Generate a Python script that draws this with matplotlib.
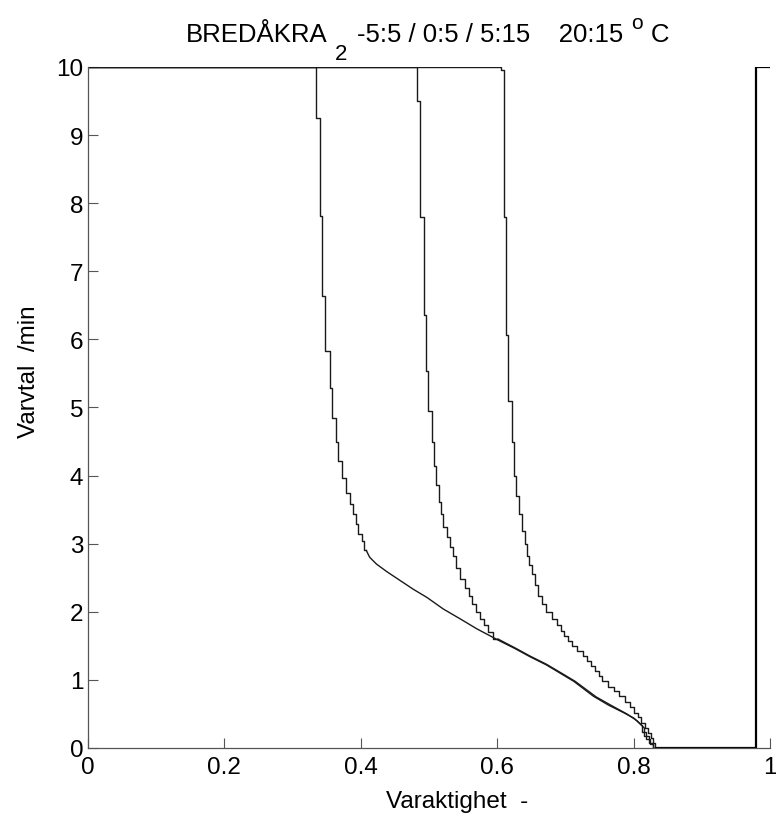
import numpy as np
import matplotlib.pyplot as plt

plt.rcParams['font.family'] = ['Liberation Sans', 'DejaVu Sans']

# curve 1 (-5:5): stepped upper part, then smooth lower part
x1_step = [0, 0.334, 0.340, 0.343, 0.348, 0.355, 0.358, 0.364, 0.367, 0.373, 0.378,
           0.384, 0.388, 0.393, 0.396, 0.401, 0.405, 0.408]
y1_step = [10, 10, 9.25, 7.81, 6.63, 5.83, 5.28, 4.84, 4.49, 4.22, 3.96,
           3.75, 3.58, 3.44, 3.29, 3.14, 3.04, 2.90]
x1_smooth = [0.408, 0.413, 0.423, 0.438, 0.450, 0.462, 0.477, 0.497, 0.521, 0.545,
             0.570, 0.604, 0.626, 0.648, 0.672, 0.692, 0.712, 0.741, 0.763, 0.785,
             0.800, 0.812]
y1_smooth = [2.90, 2.80, 2.70, 2.59, 2.51, 2.43, 2.33, 2.21, 2.04, 1.90,
             1.75, 1.57, 1.46, 1.34, 1.22, 1.10, 0.98, 0.76, 0.63, 0.52,
             0.44, 0.33]
x1_end = [0.812, 0.818, 0.824, 0.829, 0.833]
y1_end = [0.33, 0.24, 0.13, 0.06, 0.0]

# curve 2 (0:5)
x2_step = [0, 0.483, 0.487, 0.492, 0.495, 0.499, 0.504, 0.507, 0.510, 0.514, 0.517,
           0.521, 0.526, 0.530, 0.535, 0.540, 0.546, 0.552, 0.558, 0.563, 0.569,
           0.574, 0.580, 0.587, 0.594, 0.601]
y2_step = [10, 10, 9.5, 7.8, 6.36, 5.54, 4.95, 4.49, 4.14, 3.86, 3.61,
           3.44, 3.25, 3.10, 2.95, 2.82, 2.65, 2.48, 2.35, 2.23, 2.12,
           2.00, 1.90, 1.80, 1.70, 1.60]
x2_smooth = [0.601, 0.626, 0.648, 0.672, 0.694, 0.714, 0.745, 0.768, 0.790, 0.805, 0.815]
y2_smooth = [1.60, 1.47, 1.35, 1.23, 1.10, 0.98, 0.75, 0.62, 0.50, 0.40, 0.30]
x2_end = [0.815, 0.822, 0.828, 0.833]
y2_end = [0.30, 0.18, 0.08, 0.0]

# curve 3 (5:15)
x3_step = [0, 0.605, 0.610, 0.613, 0.616, 0.621, 0.625, 0.628, 0.632, 0.637, 0.640,
           0.643, 0.647, 0.651, 0.655, 0.660, 0.665, 0.672, 0.680, 0.687, 0.693,
           0.698, 0.703, 0.710, 0.717, 0.725, 0.732, 0.738, 0.743, 0.749, 0.754,
           0.762, 0.771, 0.779, 0.787, 0.794, 0.800, 0.806, 0.811, 0.816, 0.821,
           0.825, 0.828, 0.831, 0.834]
y3_step = [10, 10, 9.95, 7.8, 6.06, 5.1, 4.49, 4.0, 3.7, 3.43, 3.19,
           3.0, 2.82, 2.68, 2.55, 2.40, 2.23, 2.12, 2.00, 1.90, 1.80,
           1.72, 1.64, 1.57, 1.50, 1.42, 1.35, 1.27, 1.20, 1.13, 1.06,
           0.98, 0.90, 0.83, 0.76, 0.68, 0.60, 0.52, 0.45, 0.37, 0.30,
           0.22, 0.15, 0.08, 0.0]

# 20:15 tail
x_tail = [0.833, 0.979, 0.979, 1.0]
y_tail = [0, 0, 10, 10]

W, H = 776, 820
fig = plt.figure(figsize=(W / 100, H / 100), dpi=100)
ax = fig.add_axes([0.1134, 0.0866, 0.879, 0.8305])

lc = '#1a1a1a'
lw = 1.0
ax.step(x1_step, y1_step, where='pre', color=lc, lw=lw)
ax.plot(x1_smooth, y1_smooth, color=lc, lw=lw)
ax.step(x1_end, y1_end, where='pre', color=lc, lw=lw)
ax.step(x2_step, y2_step, where='pre', color=lc, lw=lw)
ax.plot(x2_smooth, y2_smooth, color=lc, lw=lw)
ax.step(x2_end, y2_end, where='pre', color=lc, lw=lw)
ax.step(x3_step, y3_step, where='pre', color=lc, lw=lw)
ax.plot(x_tail, y_tail, color='black', lw=1.6)

ax.set_xlim(0, 1)
ax.set_ylim(0, 10)
ax.set_xticks(np.arange(0, 1.01, 0.2))
ax.set_xticklabels(['0', '0.2', '0.4', '0.6', '0.8', '1'])
ax.set_yticks(range(0, 11))
ax.spines['top'].set_visible(False)
ax.spines['right'].set_visible(False)
for s in ['left', 'bottom']:
    ax.spines[s].set_color('#555555')
    ax.spines[s].set_linewidth(0.9)
ax.tick_params(direction='in', length=7, width=0.8, color='#555555',
               labelsize=17.5, labelcolor='black')
ax.tick_params(axis='x', pad=6)
ax.tick_params(axis='y', pad=3.5)

ax.set_xlabel('Varaktighet  -', fontsize=17.5)
ax.xaxis.set_label_coords(0.541, -0.062)
ax.set_ylabel('Varvtal  /min', fontsize=17.5)
ax.yaxis.set_label_coords(-0.071, 0.554)

# title in pieces (MATLAB-style lowered subscript and raised "o")
def ftext(px, py, s, size):
    fig.text(px / W, 1 - py / H, s, fontsize=size, ha='left', va='baseline')

ftext(186, 42, 'BREDÅKRA', 18.5)
ftext(335, 60, '2', 16)
ftext(357, 42, '-5:5 / 0:5 / 5:15    20:15', 18.5)
ftext(631, 29, 'o', 15)
ftext(651, 42, 'C', 18.5)

fig.savefig('out.png', dpi=100)
